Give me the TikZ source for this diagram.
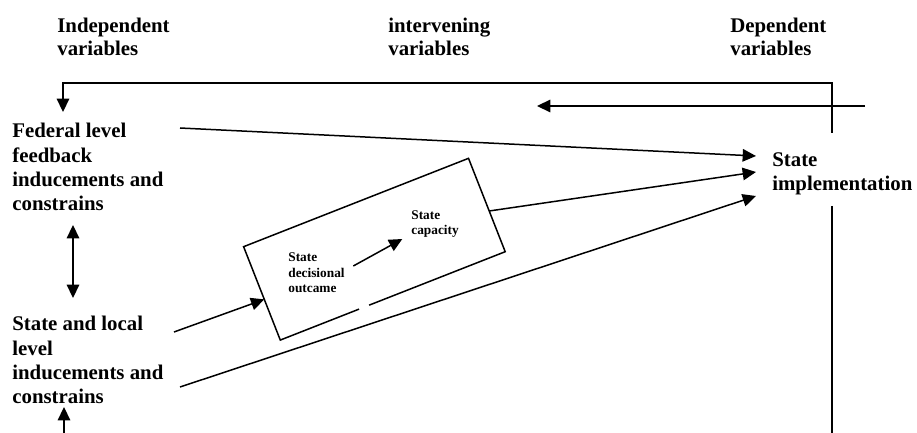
\documentclass[tikz,border=0pt]{standalone}
\usepackage{fontspec}
\setmainfont{Liberation Serif}
\usetikzlibrary{arrows.meta,calc}
\begin{document}
\begin{tikzpicture}[x=0.6pt,y=-0.6pt,
  lbl/.style={anchor=north west,inner sep=0pt,align=left,
    font=\fontsize{12.5}{14.6}\selectfont\bfseries},
  hdr/.style={anchor=north west,inner sep=0pt,align=left,
    font=\fontsize{12.5}{13.8}\selectfont\bfseries},
  small/.style={anchor=north west,inner sep=0pt,align=left,
    font=\fontsize{8}{9.3}\selectfont\bfseries},
  conn/.style={line width=0.9pt},
  arr/.style={conn,-{Triangle[length=8pt,width=7.5pt]}},
  dbl/.style={conn,{Triangle[length=8pt,width=7.5pt]}-{Triangle[length=8pt,width=7.5pt]}},
  boxed/.style={rectangle,draw=none,inner sep=0pt,outer sep=0pt,
    minimum width=145pt,minimum height=60.2pt},
]
\useasboundingbox (0,0) rectangle (917,433);

% column headings
\node[hdr] (hind) at (57,18) {Independent\\variables};
\node[hdr] (hint) at (388,18) {intervening\\variables};
\node[hdr] (hdep) at (730,18) {Dependent\\variables};

% independent variables
\node[lbl] (fed) at (12,123) {Federal level\\feedback\\inducements and\\constrains};
\node[lbl] (loc) at (12,316) {State and local\\level\\inducements and\\constrains};

% dependent variable
\node[lbl] (impl) at (772,152) {State\\implementation};

% tilted box of intervening variables
\node[boxed,rotate=21.45] (box) at (374.4,249.2) {};
\draw[conn] ($(box.south west)!0.35!(box.south east)$) -- (box.south west)
  -- (box.north west) -- (box.north east) -- (box.south east)
  -- ($(box.south west)!0.395!(box.south east)$);
\node[small] (sdo) at (288,252.7) {State\\decisional\\outcame};
\node[small] (sc) at (411,210.3) {State\\capacity};

% connector ends
\coordinate (in1) at (756,156);
\coordinate (in2) at (756,172);
\coordinate (in3) at (756,196);
\coordinate (fedout) at (180,128);
\coordinate (locout1) at (174,332);
\coordinate (locout2) at (180,387);
\coordinate (boxin) at ($(box.north west)!0.564!(box.south west)$);
\coordinate (boxout) at ($(box.north east)!0.564!(box.south east)$);
\coordinate (sdoout) at (353.3,266);
\coordinate (scin) at (402.3,239);
\coordinate (da1) at (73,225);
\coordinate (da2) at (73,298);
\coordinate (ba1) at (64,433);
\coordinate (ba2) at (64,407);
\coordinate (vr1) at (832,133);
\coordinate (fbc) at (832,83);
\coordinate (fbend) at (63,112);
\coordinate (la1) at (865,106);
\coordinate (la2) at (537,106);
\coordinate (vl1) at (832,206);
\coordinate (vl2) at (832,433);

% connectors
\draw[arr] (fedout) -- (in1);
\draw[arr] (boxout) -- (in2);
\draw[arr] (locout2) -- (in3);
\draw[arr] (locout1) -- (boxin);
\draw[arr] (sdoout) -- (scin);
\draw[dbl] (da1) -- (da2);
\draw[arr] (ba1) -- (ba2);
\draw[arr] (vr1) -- (fbc) -| (fbend);
\draw[arr] (la1) -- (la2);
\draw[conn] (vl1) -- (vl2);
\end{tikzpicture}
\end{document}
